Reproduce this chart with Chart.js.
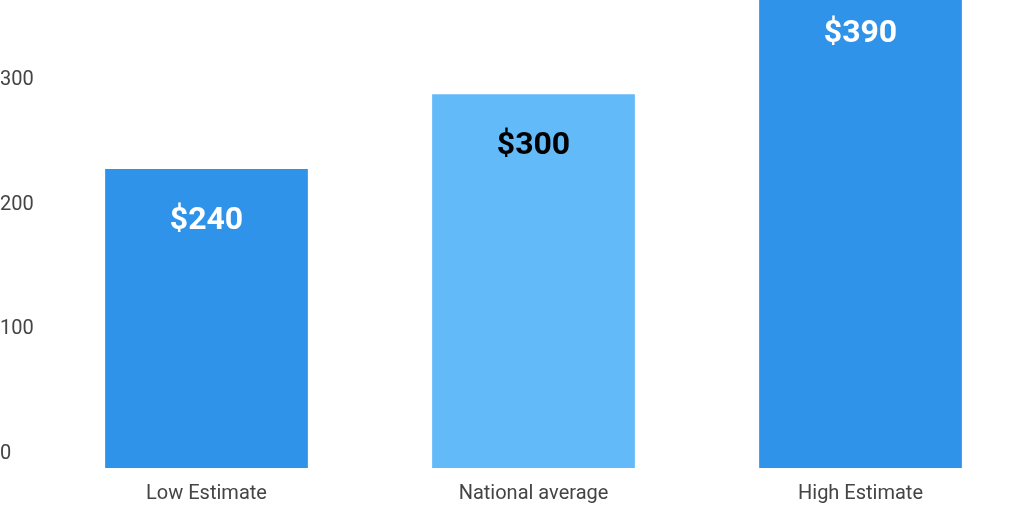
<!DOCTYPE html>
<html><head><meta charset="utf-8">
<script src="https://cdn.jsdelivr.net/npm/chart.js@4"></script>
<style>html,body{margin:0;padding:0;background:#fff}#w{width:1024px;height:512px}</style>
</head><body><div id="w"><canvas id="c"></canvas></div>
<script>
const categories = ["Low Estimate", "National average", "High Estimate"];
const values = [240, 300, 390];
const valueLabels = ["$240", "$300", "$390"];
const yTicks = [0, 100, 200, 300];
const barColors = ["#3093EA", "#63BAF9", "#3093EA"];
const labelColors = ["#ffffff", "#000000", "#ffffff"];

const labelPlugin = {
  id: 'vl',
  afterDatasetsDraw(chart) {
    const ctx = chart.ctx;
    const meta = chart.getDatasetMeta(0);
    ctx.save();
    ctx.font = 'bold 32px Roboto';
    ctx.textAlign = 'center';
    ctx.textBaseline = 'middle';
    meta.data.forEach((bar, i) => {
      ctx.fillStyle = labelColors[i];
      ctx.fillText(valueLabels[i], bar.x, bar.y + 52);
    });
    ctx.restore();
  }
};

new Chart(document.getElementById('c'), {
  type: 'bar',
  data: { labels: categories, datasets: [{ data: values, backgroundColor: barColors, barPercentage: 0.62, categoryPercentage: 1, clip: false }] },
  options: {
    responsive: true, maintainAspectRatio: false, animation: false,
    layout: { padding: 0 },
    plugins: { legend: { display: false }, tooltip: { enabled: false } },
    scales: {
      x: { grid: { display: false }, border: { display: false },
           ticks: { color: '#444', font: { family: 'Roboto', size: 20 }, padding: 6 } },
      y: { min: 0, max: 366, grid: { display: false }, border: { display: false },
           afterBuildTicks: s => { s.ticks = yTicks.map(v => ({ value: v })); },
           afterFit: s => { s.width = 43; },
           ticks: { color: '#444', font: { family: 'Roboto', size: 20 }, crossAlign: 'far', labelOffset: -14, padding: 0 } }
    }
  },
  plugins: [labelPlugin]
});
</script></body></html>
